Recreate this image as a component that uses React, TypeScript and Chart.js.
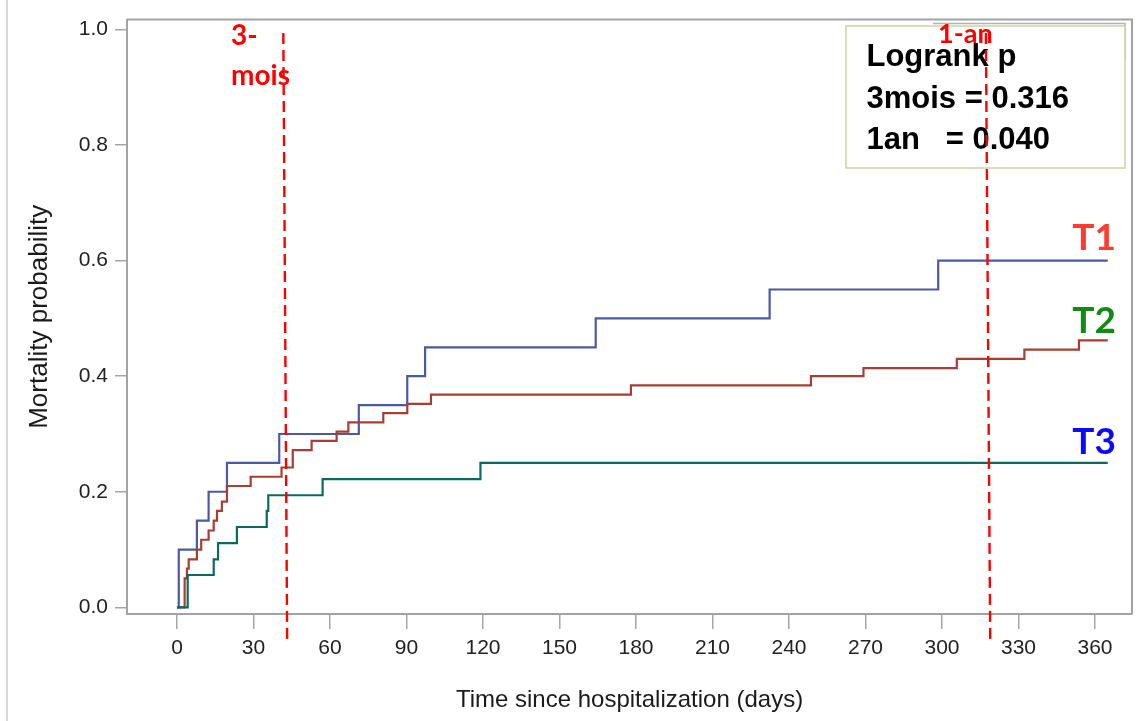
import React, { useEffect, useRef } from "react";
import { Chart, registerables } from "chart.js";

Chart.register(...registerables);

// ---- data ----
const xTicks = [0, 30, 60, 90, 120, 150, 180, 210, 240, 270, 300, 330, 360];
const yTicks = [0, 0.2, 0.4, 0.6, 0.8, 1.0];

const t1Days = [0, 0.7, 7.8, 12.4, 19.6, 40.1, 71.3, 90.3, 97.3, 164.2, 232.4, 298.5, 365];
const t1Mort = [0, 0.1, 0.15, 0.2, 0.25, 0.3, 0.35, 0.4, 0.45, 0.5, 0.55, 0.6, 0.6];

const t2Days = [0, 3.0, 3.9, 4.6, 7.8, 9.5, 12.4, 14.4, 15.7, 17.6, 19.6, 28.9, 41.0, 45.4, 52.8, 62.6, 67.2, 80.9, 90.3, 99.6, 178, 248.6, 269.2, 305.8, 332.3, 353.7, 365];
const t2Mort = [0, 0.05, 0.067, 0.083, 0.1, 0.117, 0.133, 0.15, 0.167, 0.183, 0.21, 0.226, 0.242, 0.272, 0.288, 0.304, 0.32, 0.336, 0.352, 0.368, 0.384, 0.4, 0.414, 0.43, 0.446, 0.462, 0.462];

const t3Days = [0, 4.2, 14.4, 16.1, 23.5, 35.2, 35.8, 57.1, 119, 365];
const t3Mort = [0, 0.056, 0.083, 0.111, 0.139, 0.167, 0.194, 0.222, 0.25, 0.25];

const seriesColors = ["#4a5aa3", "#a83d34", "#0b6a5f"];

const tLabels = ["T1", "T2", "T3"];
const tLabelColors = ["#ff3b2e", "#138a13", "#0a0aff"];
const tLabelDay = 368.2;
const tLabelY = [0.619, 0.475, 0.265];

// reference lines (3 months, 1 year), drawn slightly slanted as in the source
const markerTopDays = [41.7, 317.2];
const markerBottomDays = [43.2, 318.9];
const markerTopY = 0.994;
const markerBottomY = -0.055;
const markerLabels = [["3-", "mois"], ["1-an"]];

const logrankLines = ["Logrank p", "3mois = 0.316", "1an   = 0.040"];

const toPoints = (d: number[], v: number[]) => d.map((x, i) => ({ x, y: v[i] }));

const overlay = {
  id: "overlay",
  afterDraw(chart: any) {
    const { ctx, chartArea: ca, scales } = chart;
    const xs = scales.x;
    const ys = scales.y;
    ctx.save();

    // outer left rule
    ctx.strokeStyle = "#d6d6d6";
    ctx.lineWidth = 2;
    ctx.beginPath();
    ctx.moveTo(7, 0);
    ctx.lineTo(7, 721);
    ctx.stroke();

    // frame top & right
    ctx.strokeStyle = "#a3a3a3";
    ctx.lineWidth = 2;
    ctx.beginPath();
    ctx.moveTo(ca.left, ca.top);
    ctx.lineTo(ca.right, ca.top);
    ctx.lineTo(ca.right, ca.bottom);
    ctx.stroke();

    // legend box
    ctx.strokeStyle = "#b4b4b4";
    ctx.lineWidth = 1.5;
    ctx.beginPath();
    ctx.moveTo(933, 23.5);
    ctx.lineTo(1125, 23.5);
    ctx.lineTo(1125, 60);
    ctx.stroke();
    ctx.fillStyle = "#ffffff";
    ctx.fillRect(846, 26, 279, 142);
    ctx.strokeStyle = "#c6d6a2";
    ctx.lineWidth = 1.5;
    ctx.strokeRect(846, 26, 279, 142);

    ctx.fillStyle = "#000000";
    ctx.font = "bold 31px 'Liberation Sans', Arial, sans-serif";
    ctx.textAlign = "left";
    ctx.textBaseline = "alphabetic";
    const baselines = [66, 107.5, 148.5];
    logrankLines.forEach((t, i) => ctx.fillText(t, 866.5, baselines[i]));

    // T labels
    ctx.font = "bold 37px Lato, 'Noto Sans', sans-serif";
    ctx.textAlign = "right";
    tLabels.forEach((t, i) => {
      ctx.fillStyle = tLabelColors[i];
      ctx.fillText(t, xs.getPixelForValue(tLabelDay), ys.getPixelForValue(tLabelY[i]));
    });

    // red marker labels
    ctx.fillStyle = "#ff0000";
    ctx.textAlign = "left";
    ctx.font = "bold 28px Lato, 'Noto Sans', sans-serif";
    ctx.fillText(markerLabels[0][0], 231, 45);
    ctx.fillText(markerLabels[0][1], 231, 85);
    ctx.font = "bold 27px Lato, 'Noto Sans', sans-serif";
    ctx.fillText(markerLabels[1][0], 938, 43);

    // dashed marker lines
    ctx.strokeStyle = "#ff0000";
    ctx.lineWidth = 2.4;
    ctx.setLineDash([11, 6]);
    markerTopDays.forEach((d, i) => {
      ctx.beginPath();
      ctx.moveTo(xs.getPixelForValue(d), ys.getPixelForValue(markerTopY));
      ctx.lineTo(xs.getPixelForValue(markerBottomDays[i]), ys.getPixelForValue(markerBottomY));
      ctx.stroke();
    });
    ctx.restore();
  },
};

export default function App() {
  const ref = useRef<HTMLCanvasElement | null>(null);

  useEffect(() => {
    if (!ref.current) return;
    const tickFont = { family: "'Liberation Sans', Arial, sans-serif", size: 21 };
    const titleFont = { family: "'Liberation Sans', Arial, sans-serif", size: 24 };
    const yTitleFont = { family: "'Liberation Sans', Arial, sans-serif", size: 26 };
    const mk = (label: string, d: number[], v: number[], color: string, order: number) => ({
      label,
      data: toPoints(d, v),
      borderColor: color,
      backgroundColor: color,
      borderWidth: 2.2,
      pointRadius: 0,
      stepped: "before" as const,
      fill: false,
      order,
    });
    const chart = new Chart(ref.current, {
      type: "line",
      data: {
        datasets: [
          mk("T1", t1Days, t1Mort, seriesColors[0], 2),
          mk("T2", t2Days, t2Mort, seriesColors[1], 1),
          mk("T3", t3Days, t3Mort, seriesColors[2], 0),
        ],
      },
      options: {
        animation: false,
        responsive: false,
        maintainAspectRatio: false,
        layout: { padding: { left: 0, right: 10, top: 13, bottom: 0 } },
        plugins: { legend: { display: false }, tooltip: { enabled: false } },
        scales: {
          x: {
            type: "linear",
            min: -19.6,
            max: 374.5,
            afterBuildTicks: (s: any) => {
              s.ticks = xTicks.map((v) => ({ value: v }));
            },
            afterFit: (s: any) => {
              s.height = 107;
            },
            ticks: { font: tickFont, color: "#222222", padding: 7, maxRotation: 0, autoSkip: false },
            grid: { drawOnChartArea: false, drawTicks: true, tickLength: 15, color: "#a6a6a6", lineWidth: 1.5 },
            border: { display: true, color: "#a3a3a3", width: 2 },
            title: {
              display: true,
              text: "Time since hospitalization (days)",
              font: titleFont,
              color: "#1a1a1a",
              padding: { top: 0, bottom: 6.6 },
            },
          },
          y: {
            type: "linear",
            min: -0.0115,
            max: 1.017,
            afterBuildTicks: (s: any) => {
              s.ticks = yTicks.map((v) => ({ value: v }));
            },
            afterFit: (s: any) => {
              s.width = 127;
            },
            ticks: {
              font: tickFont,
              color: "#222222",
              padding: 7,
              callback: (v: any) => Number(v).toFixed(1),
            },
            grid: { drawOnChartArea: false, drawTicks: true, tickLength: 12, color: "#a6a6a6", lineWidth: 1.5 },
            border: { display: true, color: "#a3a3a3", width: 2 },
            title: {
              display: true,
              text: "Mortality probability",
              font: yTitleFont,
              color: "#1a1a1a",
              padding: { top: 24.4, bottom: 0 },
            },
          },
        },
      },
      plugins: [overlay],
    });
    return () => chart.destroy();
  }, []);

  return (
    <div style={{ position: "fixed", left: 0, top: 0, width: 1142, height: 721, background: "#fff" }}>
      <canvas ref={ref} width={1142} height={721} style={{ display: "block" }} />
    </div>
  );
}
